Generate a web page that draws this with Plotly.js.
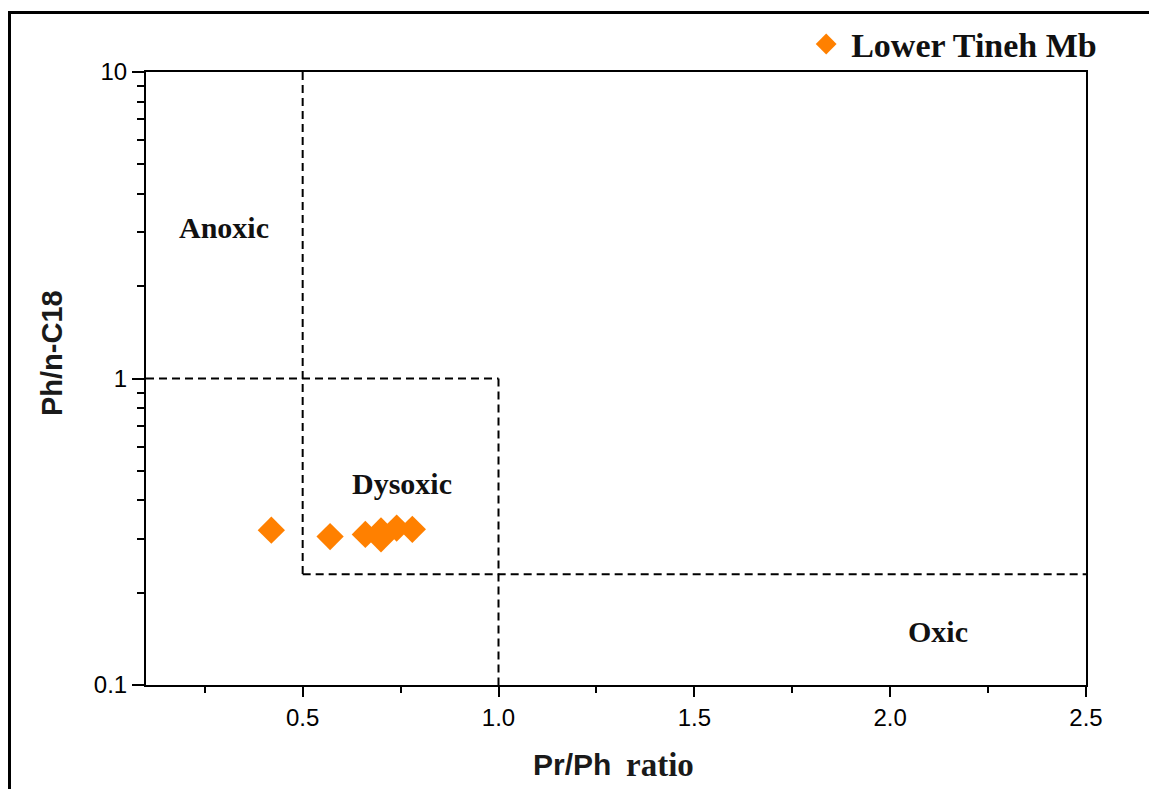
<!DOCTYPE html>
<html>
<head>
<meta charset="utf-8">
<script src="https://cdn.plot.ly/plotly-3.0.1.min.js"></script>
<style>
  html, body { margin: 0; padding: 0; background: #fff; }
  #chart { position: absolute; left: 0; top: 0; width: 1149px; height: 789px; }
  #frame { position: absolute; left: 8px; top: 11px; right: 0; bottom: 0;
           border-left: 3px solid #000; border-top: 3px solid #000; pointer-events: none; }
</style>
</head>
<body>
<div id="chart"></div>
<div id="frame"></div>
<script>
// Sample data: Pr/Ph ratio vs Ph/n-C18
const seriesName = "Lower Tineh Mb";
const prPh = [0.42, 0.57, 0.66, 0.70, 0.70, 0.74, 0.78];
const phC18 = [0.32, 0.305, 0.31, 0.318, 0.300, 0.325, 0.322];

// Field boundaries (dashed lines)
const bndAnoxicX = [0.5, 0.5];   const bndAnoxicY = [10, 0.23];
const bndTopX = [0.1, 1.0];      const bndTopY = [1, 1];
const bndMidX = [1.0, 1.0];      const bndMidY = [1, 0.1];
const bndLowX = [0.5, 2.5];      const bndLowY = [0.23, 0.23];

// Field labels
const zoneNames = ["Anoxic", "Dysoxic", "Oxic"];
const zoneX = [0.30, 0.754, 2.123];
const zoneY = [3.12, 0.453, 0.149];

// Axis labels
const xTitleA = "Pr/Ph";
const xTitleB = "ratio";
const yTitle = "Ph/n-C18";

const xTicks = [0.5, 1.0, 1.5, 2.0, 2.5];
const xTickText = ["0.5", "1.0", "1.5", "2.0", "2.5"];
const yTicks = [0.1, 1, 10];
const yTickText = ["0.1", "1", "10"];
const yMinorTicks = [0.2, 0.3, 0.4, 0.5, 0.6, 0.7, 0.8, 0.9, 2, 3, 4, 5, 6, 7, 8, 9];

const dashStyle = {color: "#000", width: 2, dash: "8px,5px"};
const bounds = [[bndAnoxicX, bndAnoxicY], [bndTopX, bndTopY], [bndMidX, bndMidY], [bndLowX, bndLowY]];
const traces = bounds.map(b => ({
  x: b[0], y: b[1], mode: "lines", line: dashStyle, showlegend: false, hoverinfo: "skip"
}));
traces.push({
  x: prPh, y: phC18, mode: "markers", name: seriesName,
  marker: {symbol: "diamond", size: 21, color: "#ff8000"}
});

const serif = "Liberation Serif, Times New Roman, serif";
const sans = "Liberation Sans, Arial, sans-serif";

const annotations = zoneNames.map((t, i) => ({
  x: zoneX[i], y: Math.log10(zoneY[i]), xref: "x", yref: "y",
  text: "<b>" + t + "</b>", showarrow: false,
  font: {family: serif, size: 30, color: "#111"}
}));
annotations.push({
  x: 0.4968, y: -0.13, xref: "paper", yref: "paper", xanchor: "right", yanchor: "middle",
  text: "<b>" + xTitleA + "</b>", showarrow: false,
  font: {family: sans, size: 30, color: "#1a1a1a"}
});
annotations.push({
  x: 0.5085, y: -0.13, xref: "paper", yref: "paper", xanchor: "left", yanchor: "middle",
  text: "<b>" + xTitleB + "</b>", showarrow: false,
  font: {family: serif, size: 33, color: "#1a1a1a"}
});
annotations.push({
  x: -0.1, y: 0.5416, xref: "paper", yref: "paper", xanchor: "center", yanchor: "middle",
  text: "<b>" + yTitle + "</b>", showarrow: false, textangle: -90,
  font: {family: sans, size: 29, color: "#1a1a1a"}
});

const layout = {
  width: 1149, height: 789,
  margin: {l: 146, r: 63, t: 72, b: 104},
  paper_bgcolor: "#fff", plot_bgcolor: "#fff",
  showlegend: true,
  legend: {
    x: 0.697, xanchor: "left", y: 1.045, yanchor: "middle",
    bgcolor: "rgba(0,0,0,0)",
    font: {family: serif, size: 34, color: "#111", weight: "bold"},
    itemsizing: "trace", itemwidth: 40
  },
  xaxis: {
    range: [0.1, 2.5], tickvals: xTicks, ticktext: xTickText,
    showgrid: false, zeroline: false,
    showline: true, mirror: true, linecolor: "#000", linewidth: 2,
    ticks: "outside", ticklen: 10, tickwidth: 2, tickcolor: "#000",
    minor: {dtick: 0.25, tick0: 0, ticks: "outside", ticklen: 6, tickwidth: 2, tickcolor: "#000", showgrid: false},
    tickfont: {family: sans, size: 24, color: "#000"}
  },
  yaxis: {
    type: "log", range: [-1, 1], tickvals: yTicks, ticktext: yTickText,
    showgrid: false, zeroline: false,
    showline: true, mirror: true, linecolor: "#000", linewidth: 2,
    ticks: "outside", ticklen: 12, tickwidth: 2, tickcolor: "#000",
    minor: {tickmode: "array", tickvals: yMinorTicks, ticks: "outside", ticklen: 7, tickwidth: 2, tickcolor: "#000", showgrid: false},
    tickfont: {family: sans, size: 24, color: "#000"}
  },
  annotations: annotations
};

Plotly.newPlot("chart", traces, layout, {staticPlot: true, displayModeBar: false});
</script>
</body>
</html>
